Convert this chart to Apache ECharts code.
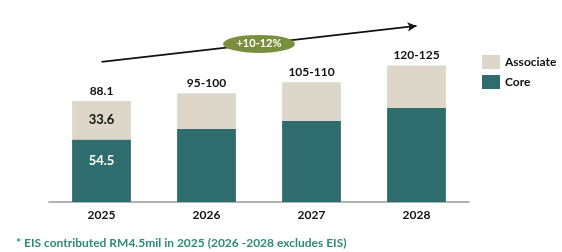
<!DOCTYPE html>
<html>
<head>
<meta charset="utf-8">
<script src="https://cdn.jsdelivr.net/npm/echarts@6/dist/echarts.min.js"></script>
<style>
  html, body { margin: 0; padding: 0; background: #fff; }
  #main { width: 562px; height: 252px; }
</style>
</head>
<body>
<div id="main"></div>
<script>
var years = ['2025', '2026', '2027', '2028'];
var core = [54.5, 63.7, 70.7, 82.0];
var associate = [33.6, 31.1, 33.7, 37.0];
var totalLabels = ['88.1', '95-100', '105-110', '120-125'];
var coreLabels = ['54.5', '', '', ''];
var assocLabels = ['33.6', '', '', ''];
var growthText = '+10-12%';
// arrow start/end and badge position, in axis units
var arrowFrom = [0.0, 122.2];
var arrowTo = [3.0, 153.6];
var badgeAt = [1.5, 137.9];
var footnote = '* EIS contributed RM4.5mil in 2025 (2026 -2028 excludes EIS)';

var myChart = echarts.init(document.getElementById('main'));
var font = 'Lato, "Open Sans", sans-serif';

var option = {
  animation: false,
  textStyle: { fontFamily: font },
  grid: { left: 49, right: 93, top: 18.6, bottom: 50 },
  legend: {
    data: ['Associate', 'Core'],
    orient: 'vertical',
    left: 477,
    top: 50,
    itemWidth: 18,
    itemHeight: 14,
    itemGap: 6,
    icon: 'rect',
    textStyle: { fontFamily: font, fontWeight: 'bold', fontSize: 12, color: '#111' }
  },
  xAxis: [{
    type: 'category',
    data: years,
    axisLine: { lineStyle: { color: '#9a9a9a', width: 1.5 } },
    axisTick: { show: false },
    axisLabel: { color: '#111', fontWeight: 'bold', fontSize: 12, margin: 7, fontFamily: font }
  }, {
    type: 'value',
    min: -0.5,
    max: 3.5,
    show: false
  }],
  yAxis: {
    type: 'value',
    min: 0,
    max: 160,
    show: false
  },
  series: [{
    name: 'Core',
    type: 'bar',
    stack: 'total',
    barWidth: '56%',
    data: core,
    itemStyle: { color: '#2e6c6e' },
    label: {
      show: true,
      position: 'insideTop',
      distance: 15,
      color: '#fff',
      fontWeight: 'bold',
      fontSize: 13,
      formatter: function (p) { return coreLabels[p.dataIndex]; }
    }
  }, {
    name: 'Associate',
    type: 'bar',
    stack: 'total',
    data: associate,
    itemStyle: { color: '#dcd7c8' },
    label: {
      show: true,
      position: 'inside',
      color: '#111',
      fontWeight: 'bold',
      fontSize: 13,
      formatter: function (p) { return assocLabels[p.dataIndex]; }
    }
  }, {
    name: 'total',
    type: 'bar',
    stack: 'total',
    data: years.map(function () { return 0; }),
    itemStyle: { color: 'transparent' },
    label: {
      show: true,
      position: 'top',
      distance: 4,
      color: '#111',
      fontWeight: 'bold',
      fontSize: 12,
      formatter: function (p) { return totalLabels[p.dataIndex]; }
    }
  }, {
    name: 'growth',
    type: 'scatter',
    xAxisIndex: 1,
    symbol: 'circle',
    symbolSize: [72, 18],
    z: 5,
    itemStyle: { color: '#7a8f3e', opacity: 1 },
    label: {
      show: true,
      position: 'inside',
      color: '#fff',
      fontWeight: 'bold',
      fontSize: 11,
      formatter: growthText
    },
    data: [badgeAt],
    markLine: {
      silent: true,
      z: 1,
      symbol: ['none', 'arrow'],
      symbolSize: [7, 9],
      label: { show: false },
      lineStyle: { color: '#111', width: 1.8, type: 'solid' },
      data: [[{ coord: arrowFrom }, { coord: arrowTo }]]
    }
  }],
  graphic: [{
    type: 'text',
    left: 16,
    top: 237,
    style: {
      text: footnote,
      fill: '#2f8a7a',
      font: 'bold 12px ' + font
    }
  }]
};

myChart.setOption(option);
</script>
</body>
</html>
